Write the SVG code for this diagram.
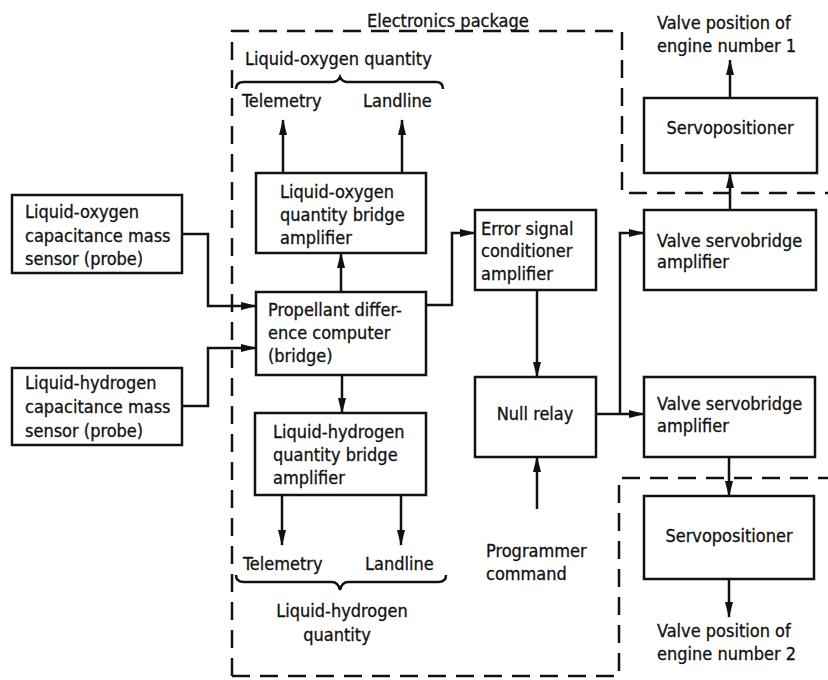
<svg xmlns="http://www.w3.org/2000/svg" width="828" height="680" viewBox="0 0 828 680">
<defs>
<style>
text{font-family:"DejaVu Sans Condensed","DejaVu Sans",sans-serif;font-size:18px;fill:#111;stroke:#111;stroke-width:0.3}
.box{fill:#fff;stroke:#111;stroke-width:2.5}
.ln{fill:none;stroke:#111;stroke-width:2.5}
.dash{fill:none;stroke:#111;stroke-width:2.5;stroke-dasharray:18 10}
.c{text-anchor:middle}
</style>
<marker id="ah" viewBox="0 0 16 10" refX="15" refY="5" markerWidth="16" markerHeight="10" markerUnits="userSpaceOnUse" orient="auto">
<path d="M0,1 L16,5 L0,9 Z" fill="#111"/>
</marker>
</defs>
<rect width="828" height="680" fill="#fff"/>

<g id="electronics-package">
<path class="dash" d="M232,676 L232,31 L622,31 L622,193 L828,193"/>
<path class="dash" d="M232,676 L619,676 L619,478 L828,478"/>
<text x="367" y="27">Electronics package</text>
</g>

<g id="connectors">
<path class="ln" marker-end="url(#ah)" d="M283,173 L283,120"/>
<path class="ln" marker-end="url(#ah)" d="M402,173 L402,120"/>
<path class="ln" marker-end="url(#ah)" d="M341,292 L341,253"/>
<path class="ln" marker-end="url(#ah)" d="M342,375 L342,413"/>
<path class="ln" marker-end="url(#ah)" d="M282,495 L282,545"/>
<path class="ln" marker-end="url(#ah)" d="M401,495 L401,545"/>
<path class="ln" marker-end="url(#ah)" d="M182,234 L208,234 L208,306 L256,306"/>
<path class="ln" marker-end="url(#ah)" d="M182,406 L208,406 L208,348 L256,348"/>
<path class="ln" marker-end="url(#ah)" d="M426,305 L452,305 L452,233 L475,233"/>
<path class="ln" marker-end="url(#ah)" d="M537,290 L537,377"/>
<path class="ln" marker-end="url(#ah)" d="M537,509 L537,457"/>
<path class="ln" marker-end="url(#ah)" d="M596,414 L644,414"/>
<path class="ln" marker-end="url(#ah)" d="M620,414 L620,233 L644,233"/>
<path class="ln" marker-end="url(#ah)" d="M730,210 L730,173"/>
<path class="ln" marker-end="url(#ah)" d="M730,98 L730,60"/>
<path class="ln" marker-end="url(#ah)" d="M729,457 L729,496"/>
<path class="ln" marker-end="url(#ah)" d="M729,579 L729,617"/>
</g>

<g id="lox-quantity-label">
<text x="245" y="65">Liquid-oxygen quantity</text>
<path class="ln" stroke-width="2" d="M236,89 Q236,82 244,82 L332,82 Q338,82 340,77 Q342,82 348,82 L436,82 Q443,82 443,89"/>
<text x="242" y="107">Telemetry</text>
<text x="363" y="107">Landline</text>
</g>

<g id="lh2-quantity-label">
<text x="243" y="570">Telemetry</text>
<text x="365" y="570">Landline</text>
<path class="ln" stroke-width="2" d="M236,575 Q236,582 244,582 L332,582 Q338,582 340,590 Q342,582 348,582 L438,582 Q446,582 446,575"/>
<text class="c" x="342" y="617">Liquid-hydrogen</text>
<text class="c" x="337" y="641">quantity</text>
</g>

<g id="lox-sensor">
<rect class="box" x="12" y="195" width="170" height="78"/>
<text x="25" y="218">Liquid-oxygen</text>
<text x="25" y="242">capacitance mass</text>
<text x="25" y="265">sensor (probe)</text>
</g>

<g id="lh2-sensor">
<rect class="box" x="12" y="368" width="170" height="77"/>
<text x="25" y="389">Liquid-hydrogen</text>
<text x="25" y="413">capacitance mass</text>
<text x="25" y="437">sensor (probe)</text>
</g>

<g id="lox-amplifier">
<rect class="box" x="256" y="173" width="170" height="80"/>
<text x="280" y="198">Liquid-oxygen</text>
<text x="280" y="221">quantity bridge</text>
<text x="280" y="244">amplifier</text>
</g>

<g id="propellant-computer">
<rect class="box" x="256" y="292" width="170" height="83"/>
<text x="268" y="316">Propellant differ-</text>
<text x="268" y="339">ence computer</text>
<text x="268" y="362">(bridge)</text>
</g>

<g id="lh2-amplifier">
<rect class="box" x="255" y="413" width="171" height="82"/>
<text x="273" y="438">Liquid-hydrogen</text>
<text x="273" y="461">quantity bridge</text>
<text x="273" y="484">amplifier</text>
</g>

<g id="error-amplifier">
<rect class="box" x="475" y="210" width="121" height="80"/>
<text x="481" y="235">Error signal</text>
<text x="481" y="257">conditioner</text>
<text x="481" y="280">amplifier</text>
</g>

<g id="null-relay">
<rect class="box" x="475" y="377" width="121" height="80"/>
<text class="c" x="535" y="420">Null relay</text>
</g>

<g id="programmer-command">
<text x="486" y="557">Programmer</text>
<text x="486" y="580">command</text>
</g>

<g id="valve-servobridge-1">
<rect class="box" x="644" y="210" width="172" height="80"/>
<text x="657" y="247">Valve servobridge</text>
<text x="657" y="268">amplifier</text>
</g>

<g id="servopositioner-1">
<rect class="box" x="644" y="98" width="173" height="75"/>
<text class="c" x="730" y="134">Servopositioner</text>
</g>

<g id="valve-position-1">
<text x="657" y="29">Valve position of</text>
<text x="657" y="52">engine number 1</text>
</g>

<g id="valve-servobridge-2">
<rect class="box" x="644" y="377" width="171" height="80"/>
<text x="657" y="410">Valve servobridge</text>
<text x="657" y="432">amplifier</text>
</g>

<g id="servopositioner-2">
<rect class="box" x="644" y="496" width="170" height="83"/>
<text class="c" x="729" y="542">Servopositioner</text>
</g>

<g id="valve-position-2">
<text x="657" y="637">Valve position of</text>
<text x="657" y="660">engine number 2</text>
</g>
</svg>
